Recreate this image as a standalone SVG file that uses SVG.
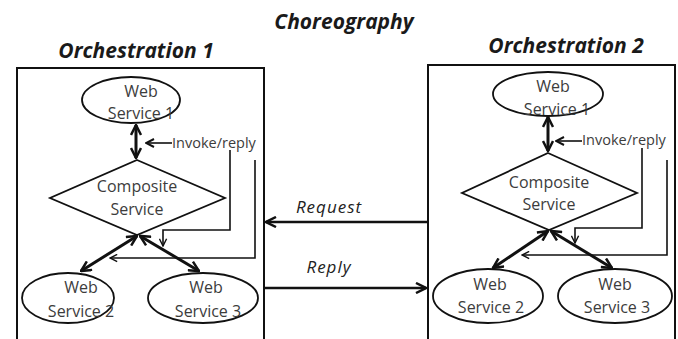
<svg xmlns="http://www.w3.org/2000/svg" width="678" height="339" viewBox="0 0 678 339">
<style>
.title{font-family:"Open Sans","Liberation Sans",sans-serif;font-weight:bold;font-style:italic;fill:#1a1a1a}
.lbl{font-family:"Open Sans","Liberation Sans",sans-serif;font-size:16px;fill:#3c3c3c;text-anchor:middle}
.small{font-family:"Open Sans","Liberation Sans",sans-serif;font-size:14.5px;fill:#3c3c3c}
.it{font-family:"Open Sans","Liberation Sans",sans-serif;font-style:italic;font-size:17px;letter-spacing:1px;fill:#222}
.shape{fill:#fff;stroke:#111;stroke-width:1.8}
.box{fill:none;stroke:#111;stroke-width:2}
.thick{fill:none;stroke:#111;stroke-width:3}
.thin{fill:none;stroke:#111;stroke-width:1.6}
.mid{fill:none;stroke:#111;stroke-width:2.5}
</style>
<defs>
<marker id="ah" viewBox="0 0 10 10" refX="9" refY="5" markerWidth="10" markerHeight="10" markerUnits="userSpaceOnUse" orient="auto-start-reverse">
<path d="M1,1 L9,5 L1,9" fill="none" stroke="#111" stroke-width="2"/>
</marker>
<marker id="ahb" viewBox="0 0 12 12" refX="11" refY="6" markerWidth="12" markerHeight="12" markerUnits="userSpaceOnUse" orient="auto-start-reverse">
<path d="M1,1 L11,6 L1,11" fill="none" stroke="#111" stroke-width="2.5"/>
</marker>
<marker id="ahs" viewBox="0 0 10 10" refX="9" refY="5" markerWidth="9" markerHeight="9" markerUnits="userSpaceOnUse" orient="auto-start-reverse">
<path d="M1,1 L9,5 L1,9" fill="none" stroke="#111" stroke-width="1.6"/>
</marker>
</defs>

<text class="title" x="344" y="29" font-size="21" text-anchor="middle">Choreography</text>
<text class="title" x="136" y="58" font-size="21" text-anchor="middle">Orchestration 1</text>
<text class="title" x="566" y="53" font-size="21" text-anchor="middle">Orchestration 2</text>

<g id="orchestration1">
<rect class="box" x="17" y="68" width="247" height="290"/>
</g>
<g id="orchestration2">
<rect class="box" x="428" y="65" width="247" height="290"/>
</g>

<g id="o1-ws1">
<ellipse class="shape" cx="131" cy="100" rx="49" ry="23"/>
<text class="lbl" x="141" y="97">Web</text>
<text class="lbl" x="141" y="119">Service 1</text>
</g>
<g id="o1-composite">
<polygon class="shape" points="137,160 225,198 137,235 50,198"/>
<text class="lbl" x="137" y="192">Composite</text>
<text class="lbl" x="137" y="215">Service</text>
</g>
<g id="o1-ws2">
<ellipse class="shape" cx="68" cy="298" rx="46" ry="25"/>
<text class="lbl" x="81" y="293">Web</text>
<text class="lbl" x="81" y="317">Service 2</text>
</g>
<g id="o1-ws3">
<ellipse class="shape" cx="203" cy="298" rx="55" ry="25"/>
<text class="lbl" x="206" y="293">Web</text>
<text class="lbl" x="208" y="317">Service 3</text>
</g>
<text class="small" x="172" y="148">Invoke/reply</text>

<g id="o2-ws1">
<ellipse class="shape" cx="548" cy="94" rx="55" ry="22"/>
<text class="lbl" x="553" y="92">Web</text>
<text class="lbl" x="557" y="115">Service 1</text>
</g>
<g id="o2-composite">
<polygon class="shape" points="548,153 637,193 549,230 462,193"/>
<text class="lbl" x="549" y="188">Composite</text>
<text class="lbl" x="549" y="210">Service</text>
</g>
<g id="o2-ws2">
<ellipse class="shape" cx="488" cy="296" rx="55" ry="27"/>
<text class="lbl" x="490" y="290">Web</text>
<text class="lbl" x="491" y="313">Service 2</text>
</g>
<g id="o2-ws3">
<ellipse class="shape" cx="615" cy="296" rx="57" ry="27"/>
<text class="lbl" x="615" y="290">Web</text>
<text class="lbl" x="617" y="313">Service 3</text>
</g>
<text class="small" x="582" y="145">Invoke/reply</text>

<text class="it" x="329" y="213" text-anchor="middle">Request</text>
<text class="it" x="329" y="273" text-anchor="middle">Reply</text>

<g id="connectors">
<line class="thick" x1="136" y1="125" x2="136" y2="158" marker-start="url(#ahb)" marker-end="url(#ahb)"/>
<line class="thin" x1="172" y1="143" x2="146" y2="143" marker-end="url(#ah)"/>
<polyline class="thin" points="230,150 230,230 163,230 163,246" marker-end="url(#ahs)"/>
<polyline class="thin" points="255,160 255,258 110,258" marker-end="url(#ahs)"/>
<line class="thick" x1="137" y1="236" x2="81" y2="271" marker-start="url(#ahb)" marker-end="url(#ahb)"/>
<line class="thick" x1="140" y1="236" x2="199" y2="271" marker-start="url(#ahb)" marker-end="url(#ahb)"/>

<line class="thick" x1="548" y1="117" x2="548" y2="151" marker-start="url(#ahb)" marker-end="url(#ahb)"/>
<line class="thin" x1="582" y1="141" x2="556" y2="141" marker-end="url(#ah)"/>
<polyline class="thin" points="642,148 642,228 575,228 575,243" marker-end="url(#ahs)"/>
<polyline class="thin" points="667,160 667,255 522,255" marker-end="url(#ahs)"/>
<line class="thick" x1="548" y1="231" x2="493" y2="268" marker-start="url(#ahb)" marker-end="url(#ahb)"/>
<line class="thick" x1="551" y1="231" x2="612" y2="268" marker-start="url(#ahb)" marker-end="url(#ahb)"/>

<line class="mid" x1="428" y1="222" x2="266" y2="222" marker-end="url(#ahb)"/>
<line class="mid" x1="264" y1="288" x2="426" y2="288" marker-end="url(#ahb)"/>
</g>
</svg>
